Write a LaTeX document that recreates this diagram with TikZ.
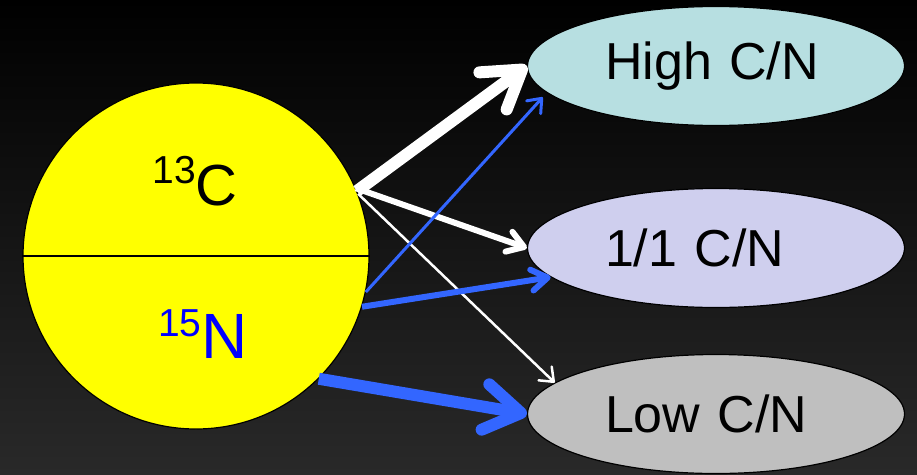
\documentclass[tikz,border=0pt]{standalone}
\usepackage{fontspec}
\setmainfont{Liberation Sans}
\usepackage{xcolor}
\usetikzlibrary{arrows.meta,shapes.geometric}

\definecolor{sampleyellow}{HTML}{FFFF00}
\definecolor{highcn}{HTML}{B7DFE1}
\definecolor{evencn}{HTML}{CFCFEE}
\definecolor{lowcn}{HTML}{BFBFBF}
\definecolor{isoblue}{HTML}{3366FF}
\definecolor{bgbottom}{HTML}{292929}

% mass number raised in front of the element
\newcommand{\isolabel}[2]{\raisebox{22pt}{\fontsize{39}{40}\selectfont #1}#2}

\begin{document}
\begin{tikzpicture}[
  x=1pt, y=-1pt,
  % Styles
  pool/.style={ellipse, draw, line width=1.2pt, minimum width=377pt,
               minimum height=119pt, inner sep=0pt, text width=222pt,
               align=left, font=\fontsize{52}{60}\selectfont},
  isotext/.style={anchor=base, inner sep=0pt},
  bigflow/.style={line width=12pt, -{Straight Barb[round, length=36pt, width=46pt]}},
  midflow/.style={line width=6pt, -{Straight Barb[round, length=16pt, width=21pt]}},
  thinflow/.style={line width=2.5pt, -{Straight Barb[round, length=12pt, width=19pt]}}
]

% Background
\shade[top color=black, bottom color=bgbottom] (0,0) rectangle (917,474);
\useasboundingbox (0,0) rectangle (917,474);

% --- 1. Labelled sample ---
\node[circle, draw, line width=1.2pt, fill=sampleyellow, minimum size=346pt,
      inner sep=0pt] (sample) at (196,256) {};
\draw[line width=1.5pt] (sample.west) -- (sample.east);
\node[isotext, font=\fontsize{58}{64}\selectfont] (carbon) at (195,205) {\isolabel{13}{C}};
\node[isotext, font=\fontsize{64}{70}\selectfont, text=blue] (nitrogen) at (203,358) {\isolabel{15}{N}};

% --- 2. Pools ---
\node[pool, fill=highcn] (high) at (716,66) {High C/N};
\node[pool, fill=evencn] (even) at (716,248) {1/1 C/N};
\node[pool, fill=lowcn] (low) at (716,414) {Low C/N};

% --- 3. Flow Arrows ---
% carbon
\draw[thinflow, white] (sample.21) -- (low.169);
\draw[midflow, white] (sample.23) -- (even.west);
\draw[bigflow, white] (sample.22) -- (high.west);

% nitrogen
\draw[thinflow, isoblue, line width=3pt, shorten >=6pt] (sample.-12) -- (high.189);
\draw[midflow, isoblue] (sample.-17) -- (even.190);
\draw[bigflow, isoblue] (sample.-45) -- (low.west);

\end{tikzpicture}
\end{document}
